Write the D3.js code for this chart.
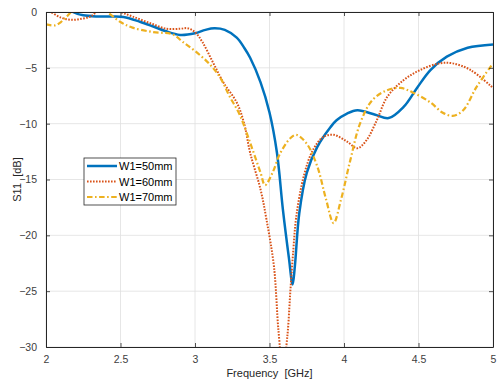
<!DOCTYPE html>
<html>
<head>
<meta charset="utf-8">
<script src="https://cdn.jsdelivr.net/npm/d3@7"></script>
<style>
html,body{margin:0;padding:0;background:#fff;}
svg{display:block;font-family:"Liberation Sans",Arial,sans-serif;}
.pre{white-space:pre;}
</style>
</head>
<body>
<svg id="chart" width="500" height="381"></svg>
<script>
// ---- data ----
const seriesNames = ["W1=50mm", "W1=60mm", "W1=70mm"];
const xTicks = [2, 2.5, 3, 3.5, 4, 4.5, 5];
const yTicks = [0, -5, -10, -15, -20, -25, -30];

const freq50 = [2.10,2.18,2.25,2.35,2.45,2.52,2.63,2.72,2.80,2.90,3.00,3.07,3.13,3.20,3.28,3.33,3.37,3.44,3.50,3.55,3.59,3.63,3.655,3.67,3.70,3.75,3.82,3.91,3.95,4.02,4.09,4.21,4.30,4.40,4.49,4.58,4.69,4.83,5.00];
const s11_50 = [0.8,0,-0.3,-0.4,-0.4,-0.45,-0.87,-1.3,-1.7,-2.05,-1.9,-1.6,-1.46,-1.6,-2.3,-3.2,-4.1,-6.3,-9.0,-12.6,-17.7,-22.0,-24.4,-22.8,-18,-14.4,-12.1,-10.3,-9.7,-9.1,-8.8,-9.2,-9.5,-8.5,-6.8,-5.2,-4.0,-3.2,-2.9];

const freq60 = [2.00,2.03,2.10,2.17,2.24,2.30,2.34,2.42,2.50,2.58,2.70,2.81,2.90,2.95,3.00,3.05,3.12,3.19,3.28,3.33,3.37,3.44,3.48,3.53,3.56,3.59,3.62,3.64,3.66,3.68,3.73,3.79,3.86,3.93,4.02,4.09,4.15,4.22,4.29,4.40,4.51,4.64,4.73,4.85,5.00];
const s11_60 = [0.1,0,-0.5,-0.7,-0.6,-0.4,0,0.4,0,-0.4,-1.0,-1.5,-1.5,-1.45,-1.8,-2.7,-4.5,-6.3,-8.1,-10.0,-12.6,-15.9,-18.6,-22.8,-28.5,-32,-29,-25,-21.3,-18.3,-14.7,-12.4,-11.2,-11.0,-11.6,-12.2,-11.5,-9.7,-7.6,-6.1,-5.2,-4.6,-4.6,-5.2,-6.8];

const freq70 = [2.00,2.06,2.10,2.14,2.17,2.25,2.33,2.41,2.50,2.58,2.72,2.85,2.92,3.01,3.10,3.17,3.23,3.30,3.37,3.44,3.47,3.52,3.57,3.64,3.68,3.75,3.82,3.88,3.93,3.98,4.04,4.11,4.19,4.29,4.38,4.46,4.58,4.66,4.73,4.80,4.89,5.00];
const s11_70 = [-1.1,-1.2,-0.9,-0.4,0,0.6,0.6,0,-0.9,-1.4,-1.8,-2.0,-2.7,-3.6,-4.7,-5.9,-7.5,-9.2,-11.7,-14.4,-15.5,-14.4,-12.7,-11.3,-11.0,-11.8,-13.8,-16.8,-18.9,-16.8,-13.4,-9.9,-7.9,-7.0,-6.8,-7.2,-8.1,-9.0,-9.3,-8.8,-6.7,-4.6];

const colors = ["#0072BD", "#D95319", "#EDB120"];

// ---- layout ----
const svg = d3.select("#chart");
const L = 46, R = 493, T = 12, B = 347;
const x = d3.scaleLinear().domain([2, 5]).range([L, R]);
const y = d3.scaleLinear().domain([-30, 0]).range([B, T]);

// grid
const grid = svg.append("g");
grid.selectAll(".gx").data(xTicks).join("line")
  .attr("x1", d => x(d)).attr("x2", d => x(d)).attr("y1", T).attr("y2", B)
  .attr("stroke", "#dfdfdf").attr("stroke-width", 0.8);
grid.selectAll(".gy").data(yTicks).join("line")
  .attr("y1", d => y(d)).attr("y2", d => y(d)).attr("x1", L).attr("x2", R)
  .attr("stroke", "#dfdfdf").attr("stroke-width", 0.8);

// clip
svg.append("clipPath").attr("id", "clip").append("rect")
  .attr("x", L).attr("y", T).attr("width", R - L).attr("height", B - T);

const series = [
  {f: freq50, v: s11_50, dash: null, w: 2.5},
  {f: freq60, v: s11_60, dash: "1.6,1.4", w: 2.0},
  {f: freq70, v: s11_70, dash: "5.5,2.5,1.6,2.5", w: 2.2}
];
const line = d3.line().x(d => x(d[0])).y(d => y(d[1])).curve(d3.curveCatmullRom.alpha(0.5));
const plot = svg.append("g").attr("clip-path", "url(#clip)");
series.forEach((s, i) => {
  plot.append("path")
    .datum(s.f.map((f, j) => [f, s.v[j]]))
    .attr("d", line)
    .attr("fill", "none")
    .attr("stroke", colors[i])
    .attr("stroke-width", s.w)
    .attr("stroke-dasharray", s.dash);
});

// axes (box with inward ticks)
const axCol = "#262626";
const xb = svg.append("g").attr("transform", `translate(0,${B})`)
  .call(d3.axisBottom(x).tickValues(xTicks).tickSizeInner(-4).tickSizeOuter(0).tickPadding(9).tickFormat(d3.format("")));
const xt = svg.append("g").attr("transform", `translate(0,${T})`)
  .call(d3.axisTop(x).tickValues(xTicks).tickSizeInner(-4).tickSizeOuter(0).tickFormat(""));
const yl = svg.append("g").attr("transform", `translate(${L},0)`)
  .call(d3.axisLeft(y).tickValues(yTicks).tickSizeInner(-4).tickSizeOuter(0).tickPadding(9).tickFormat(d3.format("")));
const yr = svg.append("g").attr("transform", `translate(${R},0)`)
  .call(d3.axisRight(y).tickValues(yTicks).tickSizeInner(-4).tickSizeOuter(0).tickFormat(""));
[xb, xt, yl, yr].forEach(g => {
  g.select(".domain").attr("stroke", axCol).attr("stroke-width", 1);
  g.selectAll(".tick line").attr("stroke", axCol).attr("stroke-width", 0.8);
  g.selectAll("text").attr("fill", "#404040").attr("font-size", 10.5)
    .attr("font-family", "Liberation Sans, Arial, sans-serif");
});

// axis labels
svg.append("text").attr("class", "pre").attr("x", (L + R) / 2).attr("y", 377).attr("text-anchor", "middle")
  .attr("font-size", 11).attr("fill", "#262626")
  .text("Frequency  [GHz]");
svg.append("text").attr("class", "pre").attr("transform", `translate(21,${(T + B) / 2}) rotate(-90)`)
  .attr("text-anchor", "middle").attr("font-size", 11).attr("fill", "#262626")
  .text("S11  [dB]");

// legend
const lg = svg.append("g").attr("transform", "translate(84,158)");
lg.append("rect").attr("x", 0).attr("y", 0).attr("width", 92).attr("height", 47)
  .attr("fill", "#fff").attr("stroke", axCol).attr("stroke-width", 0.8);
seriesNames.forEach((n, i) => {
  const yy = 8 + i * 15.5;
  lg.append("line").attr("x1", 3).attr("x2", 33).attr("y1", yy).attr("y2", yy)
    .attr("stroke", colors[i]).attr("stroke-width", series[i].w)
    .attr("stroke-dasharray", series[i].dash);
  lg.append("text").attr("x", 35).attr("y", yy + 4).attr("font-size", 11)
    .attr("fill", "#000").text(n);
});
</script>
</body>
</html>
